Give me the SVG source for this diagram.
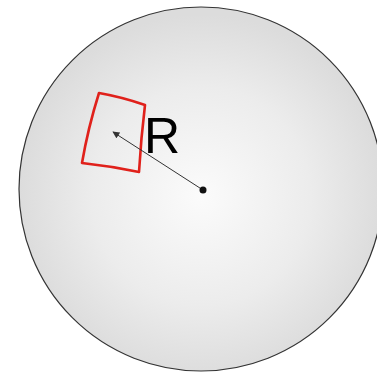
<svg xmlns="http://www.w3.org/2000/svg" width="377" height="373" viewBox="0 0 377 373">
  <defs>
    <radialGradient id="sphere" cx="0.5" cy="0.52" r="0.5">
      <stop offset="0" stop-color="#fbfbfb"/>
      <stop offset="0.6" stop-color="#ececec"/>
      <stop offset="1" stop-color="#dcdcdc"/>
    </radialGradient>
    <marker id="arrow" viewBox="0 0 10 10" refX="9" refY="5" markerWidth="7" markerHeight="7" orient="auto" markerUnits="userSpaceOnUse">
      <path d="M0,0 L10,5 L0,10 z" fill="#333"/>
    </marker>
    <style>
      .patch { fill: none; stroke: #e0211b; stroke-width: 2.6; stroke-linejoin: round; }
      .radius { stroke: #333; stroke-width: 1; fill: none; }
      .label { font-family: "Liberation Sans", Arial, sans-serif; font-size: 50px; fill: #000; }
    </style>
  </defs>
  <rect width="377" height="373" fill="#fff"/>
  <g id="sphere-node">
    <circle cx="201" cy="189" r="182" fill="url(#sphere)" stroke="#333" stroke-width="1.2"/>
  </g>
  <g id="patch-node">
    <path class="patch" d="M99,93 Q122,97 145,105 Q141,138 139,172 Q110,166 82,163 Q88,128 99,93 Z"/>
  </g>
  <g id="connectors">
    <line class="radius" x1="203" y1="190" x2="113" y2="132" marker-end="url(#arrow)"/>
    <circle cx="203" cy="190" r="3.5" fill="#111"/>
  </g>
  <g id="label-node">
    <text class="label" x="144" y="153">R</text>
  </g>
</svg>
